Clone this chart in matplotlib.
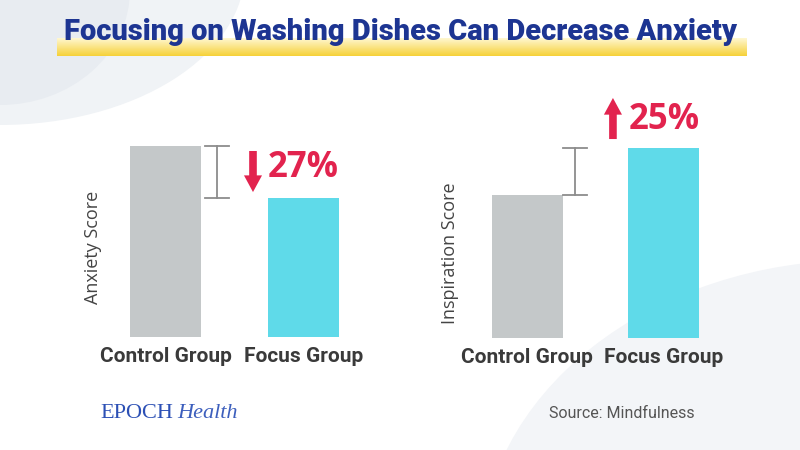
import matplotlib
matplotlib.use('Agg')
import matplotlib.pyplot as plt
from matplotlib import font_manager
from matplotlib.patches import Ellipse, FancyArrowPatch
import numpy as np

# chart values (control bar = 100)
groups = ['Control Group', 'Focus Group']
anxiety_scores = [100, 73]
inspiration_scores = [75, 100]
anxiety_change = '27%'
inspiration_change = '25%'
score_labels = ['Anxiety Score', 'Inspiration Score']

title = 'Focusing on Washing Dishes Can Decrease Anxiety'
source = 'Source: Mindfulness'

gray_bar = '#c4c8c9'
cyan_bar = '#5fdae9'
red = '#e2234e'
navy = '#1d3592'
err_gray = '#8c8c8c'

names = set(f.name for f in font_manager.fontManager.ttflist)
if 'Liberation Sans Narrow' in names:
    narrow = 'Liberation Sans Narrow'
else:
    narrow = 'Roboto'

W, H = 800, 450
fig = plt.figure(figsize=(8, 4.5), dpi=100)
fig.patch.set_facecolor('white')

# background layer in pixel coordinates
bg = fig.add_axes([0, 0, 1, 1], zorder=0)
bg.axis('off')
bg.add_patch(Ellipse((0, -30), 490, 310, color='#f0f3f6', lw=0))
bg.add_patch(Ellipse((0, -10), 260, 230, color='#e8ecf1', lw=0))
bg.add_patch(Ellipse((860, 560), 760, 600, color='#f3f5f8', lw=0))

# yellow highlight under the title
grad = np.linspace(0, 1, 64).reshape(-1, 1)
top_c = np.array([1.0, 0.97, 0.82])
bot_c = np.array([0.965, 0.82, 0.22])
img = top_c + grad[:, :, None] * (bot_c - top_c)
img = np.repeat(img, 2, axis=1)
bg.imshow(img, extent=[57, 747, 56, 38], aspect='auto', zorder=1)
bg.set_xlim(0, W)
bg.set_ylim(H, 0)

bg.text(400, 32, title, ha='center', va='center', fontsize=21, fontweight='heavy',
        color=navy, family=narrow, zorder=2)

# footer
t1 = bg.text(100, 413, 'EPOCH', ha='left', va='center', fontsize=16,
             family='Liberation Serif', color='#2c50b5')
bg.annotate('Health', xy=(1, 0), xycoords=t1, xytext=(3, 0), textcoords='offset points',
            ha='left', va='bottom', fontsize=16, family='Liberation Serif',
            style='italic', color='#3d5fbd')
bg.text(695, 414, source, ha='right', va='center', fontsize=11.5, family=narrow,
        color='#555555')


def px_axes(left, top, width, height):
    return fig.add_axes([left / W, 1 - (top + height) / H, width / W, height / H], zorder=1)


def bar_panel(ax, values, ymax, label, label_xy):
    ax.patch.set_alpha(0)
    ax.bar([0, 1], values, width=0.52, color=[gray_bar, cyan_bar])
    ax.set_xlim(-0.5, 1.5)
    ax.set_ylim(0, ymax)
    for s in ax.spines.values():
        s.set_visible(False)
    ax.set_yticks([])
    ax.set_xticks([0, 1], groups)
    ax.tick_params(axis='x', length=0, pad=7)
    for t in ax.get_xticklabels():
        t.set_fontsize(15)
        t.set_fontweight('bold')
        t.set_family(narrow)
        t.set_color('#3a3a3a')
    ax.text(label_xy[0], label_xy[1], label, transform=ax.transAxes, rotation=90,
            ha='center', va='center', fontsize=13, family='Open Sans', color='#444444')


def error_bar(ax, x, lo, hi, cap=0.088):
    ax.plot([x, x], [lo, hi], color=err_gray, lw=1.3)
    ax.plot([x - cap, x + cap], [lo, lo], color=err_gray, lw=1.3)
    ax.plot([x - cap, x + cap], [hi, hi], color=err_gray, lw=1.3)


def change_arrow(ax, x, y0, y1):
    arr = FancyArrowPatch((x, y0), (x, y1),
                          arrowstyle='simple,head_width=1.3,head_length=1.2,tail_width=0.55',
                          mutation_scale=10, color=red, lw=0, shrinkA=0, shrinkB=0)
    ax.add_patch(arr)


# left panel: anxiety
ax1 = px_axes(96.5, 100, 276, 237)
bar_panel(ax1, anxiety_scores, 124.1, score_labels[0], ((93.5 - 96.5) / 276, 0.38))
error_bar(ax1, 0.371, anxiety_scores[1], anxiety_scores[0])
change_arrow(ax1, 0.634, 97.4, 75.9)
ax1.text(0.743, 88.5, anxiety_change, ha='left', va='center', fontsize=25,
         fontweight='bold', family='Open Sans', color=red)

# right panel: inspiration
ax2 = px_axes(459.4, 90, 272, 248)
bar_panel(ax2, inspiration_scores, 130.5, score_labels[1], ((450 - 459.4) / 272, 0.343))
error_bar(ax2, 0.35, inspiration_scores[0], inspiration_scores[1])
change_arrow(ax2, 0.629, 104.7, 126.3)
ax2.text(0.747, 114.7, inspiration_change, ha='left', va='center', fontsize=25,
         fontweight='bold', family='Open Sans', color=red)

plt.savefig('out.png', dpi=100, facecolor='white')
